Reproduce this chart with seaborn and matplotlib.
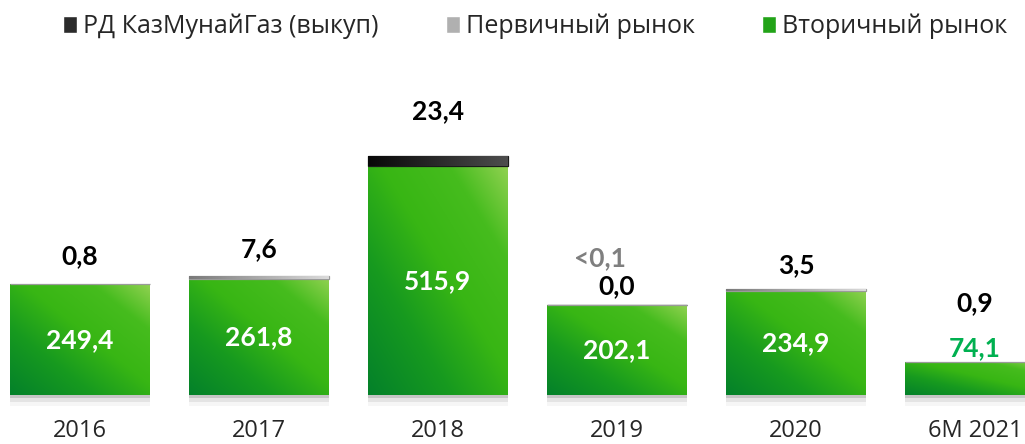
import numpy as np
import pandas as pd
import matplotlib
matplotlib.use("Agg")
import matplotlib.pyplot as plt
import matplotlib.patheffects as pe
from matplotlib.colors import LinearSegmentedColormap
from matplotlib.patches import Patch
import seaborn as sns

# Data
years = ['2016', '2017', '2018', '2019', '2020', '6M 2021']
secondary = [249.4, 261.8, 515.9, 202.1, 234.9, 74.1]   # Вторичный рынок
primary = [0.8, 7.6, 0.0, 0.05, 3.5, 0.9]              # Первичный рынок
buyback = [0.0, 0.0, 23.4, 0.0, 0.0, 0.0]              # РД КазМунайГаз (выкуп)
top_labels = ['0,8', '7,6', '23,4', '0,0', '3,5', '0,9']
small_labels = ['', '', '', '<0,1', '', '']
legend_labels = ['РД КазМунайГаз (выкуп)', 'Первичный рынок', 'Вторичный рынок']

df = pd.DataFrame({'year': years, 'secondary': secondary,
                   'primary': primary, 'buyback': buyback})
df['base_buy'] = df['secondary'] + df['primary']
df['total'] = df['base_buy'] + df['buyback']

sns.set_style('white')
plt.rcParams['font.family'] = ['Lato', 'Open Sans', 'DejaVu Sans']

fig = plt.figure(figsize=(10.25, 4.44), dpi=100)
ax = fig.add_axes([0, 49 / 444, 1, 395 / 444])

green_cmap = LinearSegmentedColormap.from_list(
    'g', [(0, '#04812a'), (0.3, '#179a1f'), (0.55, '#38b614'),
          (0.8, '#46bc1e'), (1, '#8fd150')])
grey_cmap = LinearSegmentedColormap.from_list('gr', ['#7a7a7a', '#dadada'])
black_cmap = LinearSegmentedColormap.from_list('bk', ['#080808', '#4d4d4d'])


def layer(values, bottom, color, edge):
    n0 = len(ax.patches)
    kw = dict(x=df['year'], y=values, color=color, width=0.782,
              errorbar=None, ax=ax, linewidth=0, saturation=1)
    if bottom is not None:
        kw['bottom'] = bottom
    sns.barplot(**kw)
    bars = ax.patches[n0:]
    if edge:
        for b in bars:
            b.set_edgecolor(color)
            b.set_linewidth(0.9)
    return bars


green_bars = layer(df['secondary'], None, '#2aa418', False)
grey_bars = layer(df['primary'], df['secondary'], '#9a9a9a', True)
black_bars = layer(df['buyback'], df['base_buy'], '#1a1a1a', True)
for i, b in enumerate(black_bars):
    if df['buyback'][i] == 0 and df['year'][i] != '2019':
        b.set_visible(False)

# gradient fills clipped to each bar
u, v = np.meshgrid(np.linspace(0, 1, 64), np.linspace(0, 1, 64))
diag = (u + (1 - v)) / 2  # image row 0 = top
horiz = u


def fill(bars, cmap, grid, z):
    for b in bars:
        if not b.get_visible() or b.get_height() <= 0:
            continue
        b.set_zorder(z)
        x0, y0 = b.get_x(), b.get_y()
        im = ax.imshow(grid, cmap=cmap, vmin=0, vmax=1, aspect='auto',
                       extent=[x0, x0 + b.get_width(), y0, y0 + b.get_height()],
                       zorder=z + 0.5, interpolation='bilinear')
        im.set_clip_path(b)


# soft shadow under the green bars
for b in green_bars:
    b.set_clip_on(False)
    b.set_path_effects([
        pe.SimplePatchShadow(offset=(0, -8), shadow_rgbFace='#c8c8c8', alpha=0.15),
        pe.SimplePatchShadow(offset=(0, -5), shadow_rgbFace='#a0a0a0', alpha=0.2),
        pe.SimplePatchShadow(offset=(0, -2), shadow_rgbFace='#808080', alpha=0.3),
        pe.Normal()])
fill(green_bars, green_cmap, diag, 1)
fill(grey_bars, grey_cmap, horiz, 2)
fill(black_bars, black_cmap, horiz, 2)

ax.set_xlim(-0.447, 5.279)
ax.set_ylim(0, 891)

# labels
top_offsets = [28, 26, 45, 19, 24, 59]
for i, yr in enumerate(years):
    sec = df['secondary'][i]
    tot = df['total'][i]
    if sec > 100:
        ax.text(i, sec / 2, f"{sec:.1f}".replace('.', ','), ha='center', va='center',
                color='white', fontsize=19, fontweight='bold', zorder=5)
    else:
        ax.annotate(f"{sec:.1f}".replace('.', ','), (i, tot), xytext=(0, 14),
                    textcoords='offset pixels', ha='center', va='center',
                    color='#00b050', fontsize=19, fontweight='bold', zorder=5)
    ax.annotate(top_labels[i], (i, tot), xytext=(0, top_offsets[i]),
                textcoords='offset pixels', ha='center', va='center',
                color='black', fontsize=19, fontweight='bold', zorder=5)
    if small_labels[i]:
        ax.annotate(small_labels[i], (i, tot), xytext=(-17, 47),
                    textcoords='offset pixels', ha='center', va='center',
                    color='#7f7f7f', fontsize=19, fontweight='bold', zorder=5)

sns.despine(ax=ax, left=True, bottom=True)
ax.set_yticks([])
ax.set_xlabel('')
ax.set_ylabel('')
ax.tick_params(axis='x', length=0, pad=17, labelsize=17)
for t in ax.get_xticklabels():
    t.set_fontfamily(['Open Sans', 'DejaVu Sans'])

handles = [Patch(facecolor='#2b2b2b'), Patch(facecolor='#b0b0b0'),
           Patch(facecolor='#22a318')]
fig.legend(handles, legend_labels, ncol=3, loc='upper left',
           bbox_to_anchor=(0.048, 1.0), frameon=False, handlelength=0.55,
           handleheight=0.7, handletextpad=0.25, columnspacing=2.7,
           borderaxespad=0.15, prop={'family': ['Open Sans', 'DejaVu Sans'], 'size': 18})

fig.savefig('out.png', dpi=100)
